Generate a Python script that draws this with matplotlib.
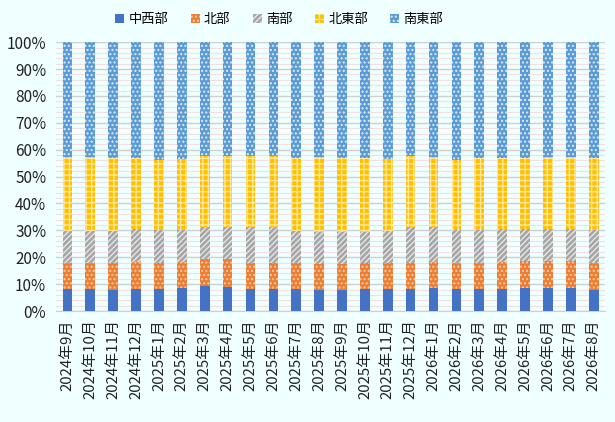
import matplotlib.pyplot as plt
from matplotlib.ticker import MultipleLocator, PercentFormatter
import numpy as np

plt.rcParams['font.family'] = ['Noto Sans CJK JP', 'DejaVu Sans']
plt.rcParams['hatch.linewidth'] = 1.0

months = ['2024年9月', '2024年10月', '2024年11月', '2024年12月',
          '2025年1月', '2025年2月', '2025年3月', '2025年4月',
          '2025年5月', '2025年6月', '2025年7月', '2025年8月',
          '2025年9月', '2025年10月', '2025年11月', '2025年12月',
          '2026年1月', '2026年2月', '2026年3月', '2026年4月',
          '2026年5月', '2026年6月', '2026年7月', '2026年8月']

# shares in %
midwest = [8.2, 8.2, 7.8, 8.2, 8.2, 8.7, 9.4, 9.0, 8.2, 8.2, 8.2, 7.8,
           7.8, 8.2, 8.2, 8.2, 8.7, 8.2, 8.2, 8.2, 8.7, 8.7, 8.7, 7.8]
north = [9.6, 9.6, 10.0, 10.1, 9.6, 9.6, 10.0, 10.2, 9.6, 9.6, 9.6, 9.7,
         9.7, 9.6, 9.6, 9.6, 9.6, 9.6, 9.6, 10.1, 10.0, 10.0, 10.0, 10.0]
south = [12.1, 12.1, 12.1, 12.2, 12.4, 11.9, 11.9, 11.9, 13.3, 13.4, 11.9, 12.0,
         12.0, 11.7, 12.1, 13.3, 12.8, 12.4, 12.4, 12.2, 11.8, 11.8, 11.8, 12.4]
northeast = [27.5, 27.5, 27.1, 26.5, 26.1, 26.3, 26.4, 26.6, 26.6, 26.5, 27.3, 27.9,
             27.5, 27.5, 26.6, 26.6, 26.3, 26.1, 26.8, 26.5, 26.5, 26.9, 26.9, 26.8]
southeast = [42.6, 42.6, 43.0, 43.0, 43.7, 43.5, 42.3, 42.3, 42.3, 42.3, 43.0, 42.6,
             43.0, 43.0, 43.5, 42.3, 42.6, 43.7, 43.0, 43.0, 43.0, 42.6, 42.6, 43.0]

series = [
    ('中西部', midwest, '#4472C4', None, '#4472C4'),
    ('北部', north, '#ED7D31', '....', '#F8CBAD'),
    ('南部', south, '#A5A5A5', '//////', '#E6E6E6'),
    ('北東部', northeast, '#FFC000', '+++', '#FFE699'),
    ('南東部', southeast, '#5B9BD5', '....', '#DDEBF7'),
]

bg = '#F0FFFF'
fig = plt.figure(figsize=(6.15, 4.22), dpi=100, facecolor=bg)
ax = fig.add_axes([0.091, 0.263, 0.893, 0.637], facecolor=bg)

x = np.arange(len(months))
bottom = np.zeros(len(months))
for name, vals, fc, hatch, hc in series:
    v = np.array(vals) / 100.0
    ax.bar(x, v, width=0.42, bottom=bottom, color=fc, hatch=hatch,
           edgecolor=hc, linewidth=0, label=name, zorder=3)
    bottom += v

ax.set_xlim(-0.5, len(months) - 0.5)
ax.set_ylim(0, 1)
ax.yaxis.set_major_locator(MultipleLocator(0.1))
ax.yaxis.set_minor_locator(MultipleLocator(0.02))
ax.yaxis.set_major_formatter(PercentFormatter(1.0, decimals=0))
ax.grid(axis='y', which='major', color='#D0D0D0', linewidth=1, zorder=0)
ax.grid(axis='y', which='minor', color='#F2E0E0', linewidth=0.8, zorder=0)

ax.set_xticks(x)
ax.set_xticklabels(months, rotation=90, fontsize=10.8, color='#222222')
ax.tick_params(axis='y', labelsize=11, labelcolor='#222222', length=0, pad=7)
ax.tick_params(axis='x', length=0, pad=6)
ax.tick_params(axis='y', which='minor', length=0)

for s in ['top', 'right', 'left']:
    ax.spines[s].set_visible(False)
ax.spines['bottom'].set_color('#D0D0D0')

fig.legend(loc='center', bbox_to_anchor=(0.454, 0.953), ncol=5, frameon=False,
           fontsize=9.5, handlelength=0.7, handleheight=0.7, handletextpad=0.3,
           columnspacing=1.7)

plt.savefig('out.png', dpi=100, facecolor=bg)
